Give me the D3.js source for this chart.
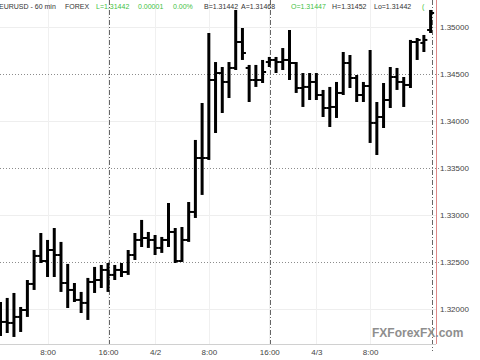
<!DOCTYPE html>
<html>
<head>
<meta charset="utf-8">
<script src="https://cdn.jsdelivr.net/npm/d3@7/dist/d3.min.js"></script>
<style>
    html, body { margin: 0; padding: 0; background: #fff; }
    svg { display: block; font-family: "Liberation Sans", Arial, sans-serif; }
</style>
</head>
<body>
<svg id="chart" width="480" height="360"></svg>
<script>

/*=============== DATA ===============*/

// hourly EURUSD bars, oldest first
var opens = [
    1.31773, 1.31859, 1.31848, 1.31912, 1.31986, 1.32263, 1.32561, 1.32507, 1.32624, 1.32571,
    1.32273, 1.32199, 1.32093, 1.32061, 1.32284, 1.32305, 1.32412, 1.32359, 1.32412, 1.32390,
    1.32571, 1.32731, 1.32752, 1.32731, 1.32646, 1.32731, 1.32816, 1.32507, 1.32731, 1.33029,
    1.33603, 1.33603, 1.34433, 1.34507, 1.34412, 1.34561, 1.34837, 1.34561, 1.34433, 1.34433,
    1.34624, 1.34646, 1.34624, 1.34646, 1.34614, 1.34348, 1.34359, 1.34412, 1.34273, 1.34135,
    1.34146, 1.34295, 1.34614, 1.34454, 1.34273, 1.34369, 1.33976, 1.34039, 1.34220, 1.34465,
    1.34412, 1.34380, 1.34837, 1.34827, 1.34965
];
var highs = [
    1.32071, 1.32114, 1.32167, 1.32018, 1.32305, 1.32624, 1.32805, 1.32731, 1.32858, 1.32710,
    1.32476, 1.32273, 1.32178, 1.32327, 1.32444, 1.32465, 1.32486, 1.32465, 1.32486, 1.32624,
    1.32805, 1.32944, 1.32816, 1.32784, 1.32763, 1.33124, 1.32858, 1.32869, 1.33135, 1.33795,
    1.34188, 1.34933, 1.34624, 1.34571, 1.34624, 1.35178, 1.34986, 1.34593, 1.34593, 1.34646,
    1.34678, 1.34678, 1.34773, 1.34965, 1.34624, 1.34507, 1.34507, 1.34507, 1.34327, 1.34359,
    1.34412, 1.34731, 1.34699, 1.34486, 1.34412, 1.34752, 1.34199, 1.34401, 1.34571, 1.34561,
    1.34465, 1.34859, 1.34880, 1.34912, 1.35178
];
var lows = [
    1.31710, 1.31741, 1.31699, 1.31752, 1.31912, 1.32199, 1.32486, 1.32337, 1.32337, 1.32178,
    1.32007, 1.32071, 1.31954, 1.31880, 1.32167, 1.32220, 1.32178, 1.32305, 1.32337, 1.32359,
    1.32518, 1.32656, 1.32646, 1.32571, 1.32593, 1.32656, 1.32486, 1.32497, 1.32710, 1.32965,
    1.33210, 1.33582, 1.33869, 1.34082, 1.34241, 1.34539, 1.34646, 1.34199, 1.34359, 1.34401,
    1.34571, 1.34507, 1.34539, 1.34433, 1.34295, 1.34146, 1.34220, 1.34220, 1.34039, 1.33933,
    1.34029, 1.34273, 1.34348, 1.34199, 1.34199, 1.33763, 1.33635, 1.33922, 1.34135, 1.34327,
    1.34146, 1.34348, 1.34646, 1.34731, 1.34933
];
var closes = [
    1.31859, 1.31848, 1.31912, 1.31986, 1.32263, 1.32561, 1.32507, 1.32624, 1.32571, 1.32273,
    1.32199, 1.32093, 1.32061, 1.32284, 1.32305, 1.32412, 1.32359, 1.32412, 1.32390, 1.32571,
    1.32731, 1.32752, 1.32731, 1.32646, 1.32731, 1.32816, 1.32507, 1.32731, 1.33029, 1.33603,
    1.33603, 1.34433, 1.34507, 1.34412, 1.34561, 1.34837, 1.34720, 1.34433, 1.34433, 1.34518,
    1.34646, 1.34624, 1.34646, 1.34614, 1.34348, 1.34359, 1.34412, 1.34273, 1.34135, 1.34146,
    1.34295, 1.34614, 1.34454, 1.34273, 1.34369, 1.33976, 1.34039, 1.34220, 1.34465, 1.34412,
    1.34380, 1.34837, 1.34859, 1.34859, 1.35146
];

// price axis
var priceTicks = [1.32, 1.325, 1.33, 1.335, 1.34, 1.345, 1.35];
var dottedTicks = [1.325, 1.335, 1.345];

// time axis (bar index of each label)
var timeTickIndex = [7, 16, 23, 31, 40, 47, 55];
var timeTickLabels = ['8:00', '16:00', '4/2', '8:00', '16:00', '4/3', '8:00'];

// 16:00 session separators
var sessionIndex = [16, 40, 64];

// header quote line
var headerParts = [
    { text: 'EURUSD - 60 min', green: false },
    { text: 'FOREX', green: false },
    { text: 'L=1.31442', green: true },
    { text: '0.00001', green: true },
    { text: '0.00%', green: true },
    { text: 'B=1.31442', green: false },
    { text: 'A=1.31468', green: false },
    { text: 'O=1.31447', green: true },
    { text: 'H=1.31452', green: false },
    { text: 'Lo=1.31442', green: false },
    { text: '(', green: true }
];
var headerX = [-1, 65, 96, 138, 173, 204, 241, 291, 332, 374, 422];

/*=============== SETUP ===============*/

var width = 480;
var height = 360;
var plotRight = 436;
var plotBottom = 344;

var bars = opens.map(function (o, i) {
    return { i: i, o: o, h: highs[i], l: lows[i], c: closes[i] };
});

var x = d3.scaleLinear().domain([0, bars.length - 1]).range([0.5, 430.6]);
var y = d3.scaleLinear().domain([1.31624, 1.35284]).range([plotBottom, 0]);

var svg = d3.select('#chart');

svg.append('rect')
    .attr('width', width)
    .attr('height', height)
    .attr('fill', '#fff');

/*=============== GRID ===============*/

var grid = svg.append('g').attr('class', 'grid');

grid.selectAll('line.hgrid')
    .data(priceTicks.filter(function (p) { return dottedTicks.indexOf(p) === -1; }))
    .enter().append('line')
        .attr('class', 'hgrid')
        .attr('x1', 0)
        .attr('x2', plotRight)
        .attr('y1', function (d) { return Math.round(y(d)) + 0.5; })
        .attr('y2', function (d) { return Math.round(y(d)) + 0.5; })
        .attr('stroke', '#eeeeee');

grid.selectAll('line.vgrid')
    .data(timeTickIndex)
    .enter().append('line')
        .attr('class', 'vgrid')
        .attr('x1', function (d) { return Math.round(x(d)) + 0.5; })
        .attr('x2', function (d) { return Math.round(x(d)) + 0.5; })
        .attr('y1', 0)
        .attr('y2', plotBottom)
        .attr('stroke', '#f0f0f0');

grid.selectAll('line.dotted')
    .data(dottedTicks)
    .enter().append('line')
        .attr('class', 'dotted')
        .attr('x1', 0)
        .attr('x2', 440)
        .attr('y1', function (d) { return Math.round(y(d)) + 0.5; })
        .attr('y2', function (d) { return Math.round(y(d)) + 0.5; })
        .attr('stroke', '#8c8c8c')
        .attr('stroke-dasharray', '1,2');

grid.selectAll('line.session')
    .data(sessionIndex)
    .enter().append('line')
        .attr('class', 'session')
        .attr('x1', function (d) { return Math.round(x(d)) + 1.5; })
        .attr('x2', function (d) { return Math.round(x(d)) + 1.5; })
        .attr('y1', 0)
        .attr('y2', function (d, i) { return i === sessionIndex.length - 1 ? 351 : plotBottom; })
        .attr('stroke', '#666')
        .attr('stroke-dasharray', '5,2,1,2');

// bottom axis line
svg.append('line')
    .attr('x1', 0)
    .attr('x2', plotRight)
    .attr('y1', plotBottom + 0.5)
    .attr('y2', plotBottom + 0.5)
    .attr('stroke', '#d0d0d0');

// right price axis border
svg.append('line')
    .attr('x1', plotRight + 0.5)
    .attr('x2', plotRight + 0.5)
    .attr('y1', 0)
    .attr('y2', plotBottom)
    .attr('stroke', '#dd8888');

/*=============== BARS ===============*/

var barG = svg.append('g').attr('class', 'bars')
    .selectAll('g.bar')
    .data(bars)
    .enter().append('g')
        .attr('class', 'bar')
        .attr('transform', function (d) { return 'translate(' + x(d.i) + ',0)'; });

barG.append('line')
    .attr('x1', 0).attr('x2', 0)
    .attr('y1', function (d) { return y(d.h); })
    .attr('y2', function (d) { return y(d.l); })
    .attr('stroke', '#000')
    .attr('stroke-width', 3);

barG.append('line')
    .attr('x1', -3.5).attr('x2', 0)
    .attr('y1', function (d) { return y(d.o); })
    .attr('y2', function (d) { return y(d.o); })
    .attr('stroke', '#000')
    .attr('stroke-width', 2);

barG.append('line')
    .attr('x1', 0).attr('x2', 3.5)
    .attr('y1', function (d) { return y(d.c); })
    .attr('y2', function (d) { return y(d.c); })
    .attr('stroke', '#000')
    .attr('stroke-width', 2);

/*=============== AXES ===============*/

var priceAxis = d3.axisRight(y)
    .tickValues(priceTicks)
    .tickSize(0)
    .tickPadding(0)
    .tickFormat(d3.format('.5f'));

svg.append('g')
    .attr('class', 'price-axis')
    .attr('transform', 'translate(440,0)')
    .call(priceAxis)
    .call(function (g) {
        g.select('.domain').remove();
        g.selectAll('text')
            .attr('font-size', '8px')
            .attr('fill', '#444');
    });

var timeAxis = d3.axisBottom(x)
    .tickValues(timeTickIndex)
    .tickSize(0)
    .tickPadding(5)
    .tickFormat(function (d, i) { return timeTickLabels[i]; });

svg.append('g')
    .attr('class', 'time-axis')
    .attr('transform', 'translate(0,' + plotBottom + ')')
    .call(timeAxis)
    .call(function (g) {
        g.select('.domain').remove();
        g.selectAll('text')
            .attr('font-size', '8px')
            .attr('fill', '#444');
    });

/*=============== HEADER + WATERMARK ===============*/

svg.append('g')
    .attr('class', 'header')
    .selectAll('text')
    .data(headerParts)
    .enter().append('text')
        .attr('x', function (d, i) { return headerX[i]; })
        .attr('y', 9)
        .attr('font-size', '7px')
        .attr('fill', function (d) { return d.green ? '#3fbf3f' : '#333'; })
        .text(function (d) { return d.text; });

svg.append('text')
    .attr('x', 372)
    .attr('y', 337)
    .attr('font-size', '12px')
    .attr('font-weight', 'bold')
    .attr('fill', '#8e8e8e')
    .text('FXForexFX.com');

</script>
</body>
</html>
